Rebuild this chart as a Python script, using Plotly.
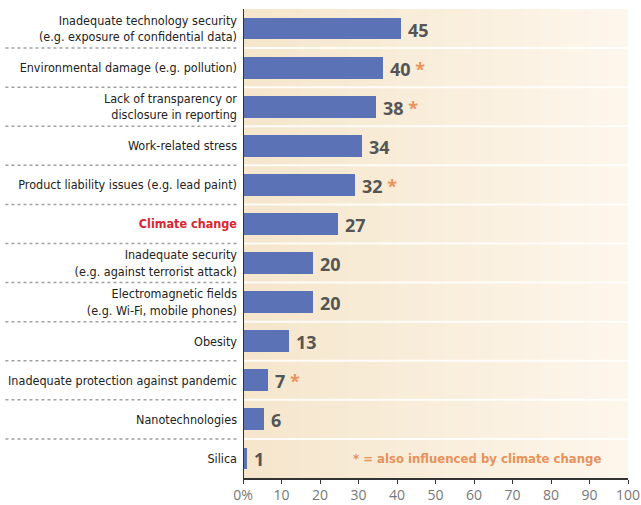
import plotly.graph_objects as go

categories = [
    "Inadequate technology security<br>(e.g. exposure of confidential data)",
    "Environmental damage (e.g. pollution)",
    "Lack of transparency or<br>disclosure in reporting",
    "Work-related stress",
    "Product liability issues (e.g. lead paint)",
    "Climate change",
    "Inadequate security<br>(e.g. against terrorist attack)",
    "Electromagnetic fields<br>(e.g. Wi-Fi, mobile phones)",
    "Obesity",
    "Inadequate protection against pandemic",
    "Nanotechnologies",
    "Silica",
]
values = [45, 40, 38, 34, 32, 27, 20, 20, 13, 7, 6, 1]
climate_flag = [False, True, True, False, True, False, False, False, False, True, False, False]
tick_vals = [0, 10, 20, 30, 40, 50, 60, 70, 80, 90, 100]
tick_text = ["0%", "10", "20", "30", "40", "50", "60", "70", "80", "90", "100"]
legend_note = "* = also influenced by climate change"

n = len(categories)
ypos = list(range(n))

BAR = "#5b72b6"
ORANGE = "#e8925a"
GREY = "#555555"
RED = "#d9252f"
LABEL_FONT = "DejaVu Sans Condensed, Liberation Sans Narrow, Roboto"
# the original graphic draws its bars on a slightly compressed scale relative to its tick axis
BAR_AXIS_MAX = 110

fig = go.Figure()
fig.add_trace(go.Bar(
    x=values, y=ypos, orientation="h", xaxis="x2", yaxis="y",
    marker=dict(color=BAR, line=dict(width=0)),
    width=0.56, hoverinfo="skip",
))

shapes = []
steps = 40
c0 = (245, 230, 204)
c1 = (253, 246, 235)
for i in range(steps):
    t = i / (steps - 1)
    col = tuple(int(round(c0[k] + (c1[k] - c0[k]) * t)) for k in range(3))
    shapes.append(dict(type="rect", xref="x", yref="paper",
                       x0=100 * i / steps, x1=100 * (i + 1) / steps + 0.2, y0=0, y1=1,
                       fillcolor="rgb(%d,%d,%d)" % col, line=dict(width=0), layer="below"))
for i in range(n - 1):
    yb = i + 0.5
    shapes.append(dict(type="line", xref="x", yref="y", x0=0, x1=100, y0=yb, y1=yb,
                       line=dict(color="rgba(255,255,255,0.85)", width=2), layer="below"))
    shapes.append(dict(type="line", xref="paper", yref="y", x0=-0.617, x1=-0.01, y0=yb, y1=yb,
                       line=dict(color="#a0a0a0", width=1.5, dash="dot")))
shapes.append(dict(type="line", xref="x", yref="paper", x0=0, x1=0, y0=0, y1=1,
                   line=dict(color="#333333", width=2)))

annotations = []
for i, (v, f) in enumerate(zip(values, climate_flag)):
    txt = "<b>%d</b>" % v
    if f:
        txt += " <span style='color:%s'><b>*</b></span>" % ORANGE
    annotations.append(dict(x=v, y=i, xref="x2", yref="y", text=txt, showarrow=False,
                            xanchor="left", xshift=5, yshift=-1,
                            font=dict(size=18, color=GREY, family="Open Sans")))
annotations.append(dict(x=0.935, y=n - 1, xref="paper", yref="y",
                        text="<b>" + legend_note + "</b>", showarrow=False,
                        xanchor="right", font=dict(size=13, color=ORANGE, family=LABEL_FONT)))

ticktext_y = []
for c in categories:
    if c == "Climate change":
        ticktext_y.append("<b><span style='color:%s'>%s</span></b>" % (RED, c))
    else:
        ticktext_y.append(c)

fig.update_layout(
    width=641, height=505,
    margin=dict(l=243, r=13, t=9, b=27),
    paper_bgcolor="white", plot_bgcolor="white",
    showlegend=False, bargap=0,
    shapes=shapes, annotations=annotations,
    xaxis=dict(range=[0, 100], tickvals=tick_vals, ticktext=tick_text,
               showgrid=False, zeroline=False, showline=True, linecolor="#333333",
               linewidth=1.5, ticks="outside", ticklen=4, tickcolor="#333333",
               tickfont=dict(size=14, color="#777777", family="Open Sans"),
               automargin=False, fixedrange=True),
    xaxis2=dict(range=[0, BAR_AXIS_MAX], overlaying="x", side="bottom", visible=False,
                showgrid=False, zeroline=False, fixedrange=True),
    yaxis=dict(range=[n - 0.5, -0.5], tickvals=ypos, ticktext=ticktext_y,
               showgrid=False, zeroline=False, showline=False, ticks="",
               ticklabelstandoff=5, automargin=False,
               tickfont=dict(size=12.5, color="#222222", family=LABEL_FONT),
               fixedrange=True),
)

fig.write_html("out.html",
               config={"displayModeBar": False, "staticPlot": True},
               post_script="document.body.style.margin='0';document.body.style.overflow='hidden';")
